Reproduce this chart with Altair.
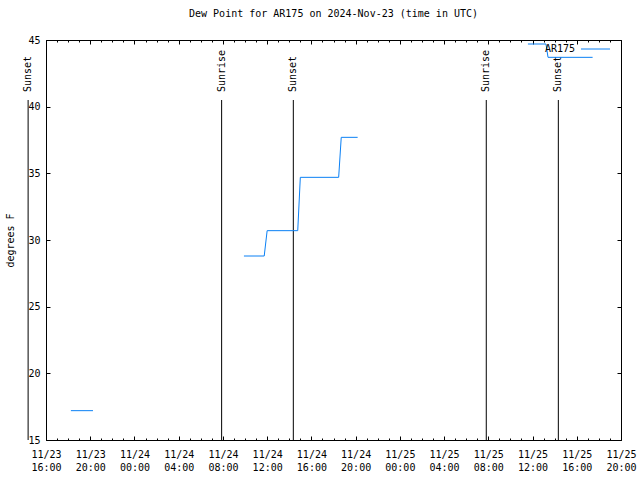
import altair as alt
import pandas as pd

# ---------------- data ----------------
seg_ids = [1, 1,
           2, 2, 2, 2, 2, 2, 2, 2,
           3, 3, 3, 3]
times = ["2024-11-23T18:15:00Z", "2024-11-23T20:15:00Z",
         "2024-11-24T09:54:00Z", "2024-11-24T11:44:00Z", "2024-11-24T12:00:00Z",
         "2024-11-24T14:46:00Z", "2024-11-24T15:00:00Z", "2024-11-24T18:28:00Z",
         "2024-11-24T18:42:00Z", "2024-11-24T20:11:00Z",
         "2024-11-25T11:35:00Z", "2024-11-25T13:13:00Z", "2024-11-25T13:24:00Z",
         "2024-11-25T17:26:00Z"]
values = [17.2, 17.2,
          28.8, 28.8, 30.7, 30.7, 34.7, 34.7, 37.7, 37.7,
          44.7, 44.7, 43.7, 43.7]

sun_times = ["2024-11-23T14:23:00Z", "2024-11-24T07:53:00Z", "2024-11-24T14:22:00Z",
             "2024-11-25T07:49:00Z", "2024-11-25T14:20:00Z"]
sun_labels = ["Sunset", "Sunrise", "Sunset", "Sunrise", "Sunset"]

series_name = ["AR175"]
y_ticks = [15, 20, 25, 30, 35, 40, 45]
x_start = "2024-11-23T16:00:00Z"
x_end = "2024-11-25T20:00:00Z"

TITLE = "Dew Point for AR175 on 2024-Nov-23 (time in UTC)"
BLUE = "#0a80f5"
FONT = "DejaVu Sans Mono"


def ms(ts):
    return int(pd.Timestamp(ts).value // 1_000_000)


major_ticks = [ms(t) for t in pd.date_range(x_start, x_end, freq="4h")]
minor_ticks = [ms(t) for t in pd.date_range(x_start, x_end, freq="1h")]

df = pd.DataFrame({"seg": seg_ids, "time": [ms(t) for t in times], "value": values})
sun_df = pd.DataFrame({"time": [ms(t) for t in sun_times], "label": sun_labels})
leg_df = pd.DataFrame({"name": series_name})

xscale = alt.Scale(type="utc", domain=[ms(x_start), ms(x_end)], nice=False)
yscale = alt.Scale(domain=[15, 45], nice=False, zero=False)

common = dict(grid=False, domain=False, title=None, tickColor="black",
              labelFlush=False, labelOverlap=False)

bottom_major = alt.Axis(
    orient="bottom", values=major_ticks,
    labelExpr="[utcFormat(datum.value, '%m/%d'), utcFormat(datum.value, '%H:%M')]",
    offset=-4, tickSize=4, labelPadding=9, labelLineHeight=13, labelAngle=0,
    labelBaseline="top", labelAlign="center", **common)
top_major = alt.Axis(orient="top", values=major_ticks,
                     offset=-4, tickSize=4, labels=False, **common)
bottom_minor = alt.Axis(orient="bottom", values=minor_ticks,
                        offset=-2, tickSize=2, labels=False, **common)
top_minor = alt.Axis(orient="top", values=minor_ticks,
                     offset=-2, tickSize=2, labels=False, **common)

left_axis = alt.Axis(orient="left", values=y_ticks, offset=-4, tickSize=4,
                     labelPadding=6, grid=False, domain=False, tickColor="black",
                     title="degrees F", titlePadding=12, labelFlush=False)
right_axis = alt.Axis(orient="right", values=y_ticks, offset=-4, tickSize=4,
                      labels=False, grid=False, domain=False, tickColor="black",
                      title=None)

base = alt.Chart(df)

line = base.mark_line(color=BLUE, strokeWidth=1).encode(
    x=alt.X("time:T", scale=xscale, axis=bottom_major),
    y=alt.Y("value:Q", scale=yscale, axis=left_axis),
    detail="seg:N",
)
ghost_top = base.mark_line(opacity=0).encode(
    x=alt.X("time:T", scale=xscale, axis=top_major),
    y=alt.Y("value:Q", scale=yscale, axis=right_axis),
    detail="seg:N",
)
ghost_bmin = base.mark_line(opacity=0).encode(
    x=alt.X("time:T", scale=xscale, axis=bottom_minor),
    y=alt.Y("value:Q", scale=yscale, axis=None),
    detail="seg:N",
)
ghost_tmin = base.mark_line(opacity=0).encode(
    x=alt.X("time:T", scale=xscale, axis=top_minor),
    y=alt.Y("value:Q", scale=yscale, axis=None),
    detail="seg:N",
)

sun_rules = alt.Chart(sun_df).mark_rule(color="black", strokeWidth=1).encode(
    x=alt.X("time:T", scale=xscale, axis=None),
    y=alt.value(60),
    y2=alt.value(400),
)
sun_text = alt.Chart(sun_df).mark_text(
    angle=270, align="left", baseline="middle", font=FONT, fontSize=10, color="black"
).encode(
    x=alt.X("time:T", scale=xscale, axis=None),
    y=alt.value(52),
    text="label:N",
)

leg_text = alt.Chart(leg_df).mark_text(
    align="right", baseline="middle", font=FONT, fontSize=10, color="black"
).encode(x=alt.value(529), y=alt.value(9), text="name:N")
leg_line = alt.Chart(leg_df).mark_rule(color=BLUE, strokeWidth=1).encode(
    x=alt.value(535), x2=alt.value(564), y=alt.value(9)
)

chart = alt.layer(
    sun_rules, sun_text, line, ghost_top, ghost_bmin, ghost_tmin, leg_text, leg_line
).resolve_axis(
    x="independent", y="independent"
).properties(
    width=575, height=400,
    padding={"left": 46, "top": 40, "right": 19, "bottom": 40},
    autosize=alt.AutoSizeParams(type="none"),
    title=alt.Title(TITLE, font=FONT, fontSize=10, fontWeight="normal",
                    color="black", offset=16, anchor="middle"),
    background="white",
).configure_view(
    stroke="black", strokeWidth=1
).configure_axis(
    labelFont=FONT, labelFontSize=10, labelColor="black",
    titleFont=FONT, titleFontSize=10, titleFontWeight="normal", titleColor="black",
)

chart.save("out.html", embed_options={"renderer": "svg", "actions": False})
